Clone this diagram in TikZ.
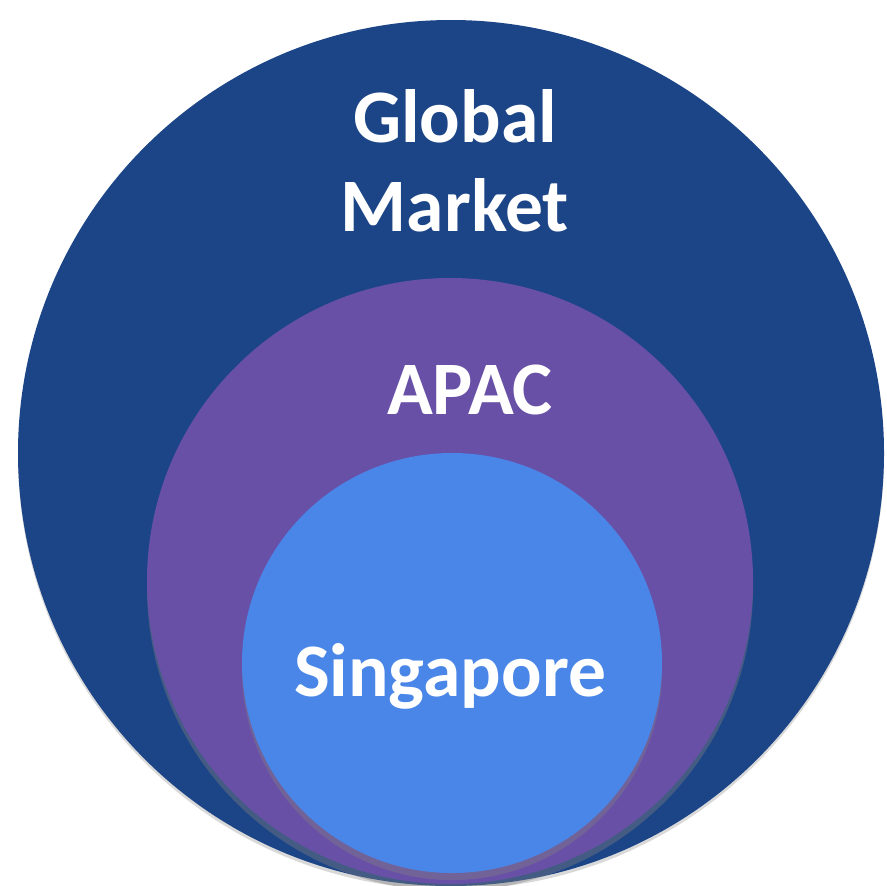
\documentclass[tikz,border=0pt]{standalone}
\usepackage{fontspec}
\setmainfont{Carlito}
\usepackage{tikz}
\usetikzlibrary{positioning, shadows}

\definecolor{globalblue}{RGB}{28,69,135}
\definecolor{apacpurple}{RGB}{104,80,167}
\definecolor{sgblue}{RGB}{74,134,232}

\begin{document}
\begin{tikzpicture}[every node/.style={font=\fontsize{21.5}{25.5}\selectfont\bfseries}]
    \useasboundingbox (0,0) rectangle (8.87,8.85);
    % Define circles
    \node[circle, fill=globalblue, minimum size=8.66cm, inner sep=0pt, drop shadow={shadow xshift=0pt, shadow yshift=-1pt, opacity=0.3}] (global) at (4.51,4.32) {};
    \node[circle, fill=apacpurple, minimum size=6.06cm, inner sep=0pt, drop shadow={shadow xshift=0pt, shadow yshift=-2pt, opacity=0.4}] (apac) at (4.50,3.04) {};
    \node[circle, fill=sgblue, minimum size=4.20cm, inner sep=0pt, drop shadow={shadow xshift=0pt, shadow yshift=-2pt, opacity=0.4}] (sg) at (4.52,2.22) {};
    % labels
    \node[text=white, align=center, inner sep=0pt, below=0.69cm of global.north, xshift=0.04cm] (globaltxt) {Global\\Market};
    \node[text=white, inner sep=0pt, below=0.87cm of apac.north, xshift=0.2cm] (apactxt) {APAC};
    \node[text=white, inner sep=0pt, below=1.9cm of sg.north, xshift=-0.02cm] (sgtxt) {Singapore};
\end{tikzpicture}
\end{document}
